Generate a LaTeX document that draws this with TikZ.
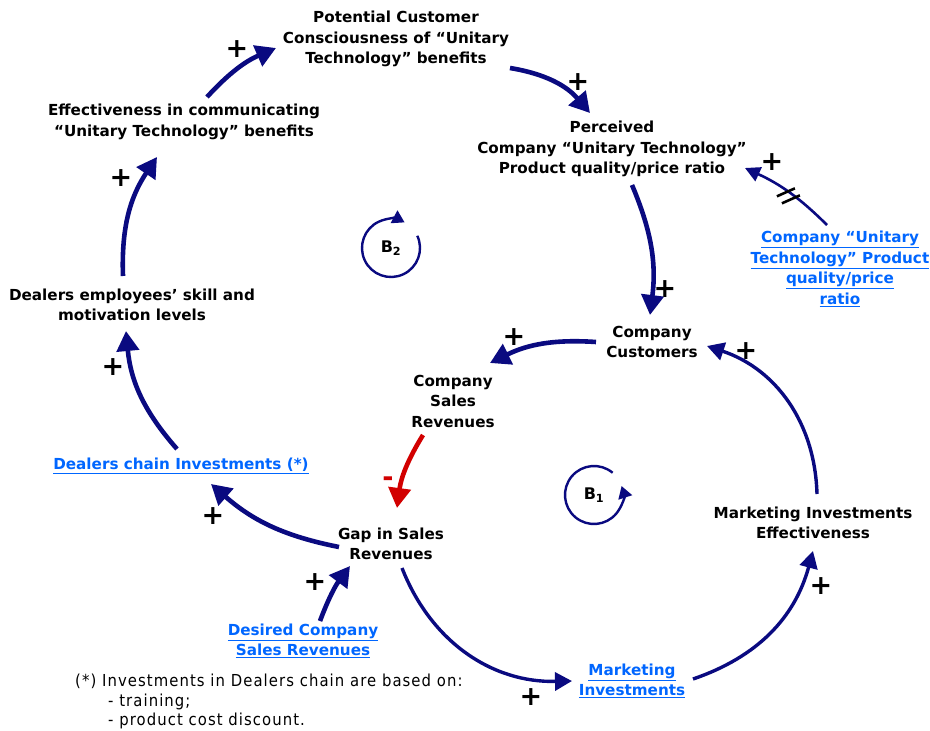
\documentclass[tikz,border=0pt]{standalone}
\usepackage{fontspec}
\setmainfont{DejaVu Sans}
\newfontfamily\notefont[LetterSpace=6.5]{DejaVu Sans Condensed}
\usetikzlibrary{arrows.meta}

\definecolor{loopnavy}{RGB}{10,10,128}
\definecolor{linkblue}{RGB}{0,102,255}
\definecolor{negred}{RGB}{210,0,0}

\newcommand\varfont{\bfseries\fontsize{15.2}{20.5}\selectfont}
\newcommand\ul[1]{\underline{#1}}

\tikzset{
  var/.style={align=center, inner sep=0pt, font=\varfont, text=black},
  linkvar/.style={var, text=linkblue},
  bigarrow/.style={draw=loopnavy, line width=4.6pt, -{Triangle[length=20pt,width=22pt]}},
  midarrow/.style={draw=loopnavy, line width=3.4pt, -{Triangle[length=17pt,width=18pt]}},
  thinarrow/.style={draw=loopnavy, line width=2.6pt, -{Triangle[length=15pt,width=15pt]}},
  negarrow/.style={draw=negred, line width=4.6pt, -{Triangle[length=20pt,width=22pt]}},
  sign/.style={inner sep=0pt, font=\bfseries\fontsize{27}{27}\selectfont},
  looparc/.style={draw=loopnavy, line width=2.4pt, -{Triangle[length=12pt,width=14pt]}},
  looplabel/.style={inner sep=0pt, font=\bfseries\fontsize{16}{18}\selectfont},
}

\begin{document}
\begin{tikzpicture}[x=1pt, y=-1pt]
\useasboundingbox (0,0) rectangle (930,731);
\fill[white] (0,0) rectangle (930,731);

% ---- variables ----
\node[var] (pot) at (396,39) {Potential Customer\\Consciousness of “Unitary\\Technology” benefits};
\node[var] (eff) at (184,122) {Effectiveness in communicating\\“Unitary Technology” benefits};
\node[var] (dea) at (132,305) {Dealers employees’ skill and\\motivation levels};
\node[linkvar] (dci) at (181,466) {\ul{Dealers chain Investments (*)}};
\node[var] (gap) at (391,544) {Gap in Sales\\Revenues};
\node[linkvar] (des) at (303,641) {\ul{Desired Company}\\\ul{Sales Revenues}};
\node[linkvar] (mkt) at (632,681) {\ul{Marketing}\\\ul{Investments}};
\node[var] (mie) at (813,523) {Marketing Investments\\Effectiveness};
\node[var] (cus) at (652,342) {Company\\Customers};
\node[var] (csr) at (453,401) {Company\\Sales\\Revenues};
\node[var] (per) at (612,149) {Perceived\\Company “Unitary Technology”\\Product quality/price ratio};
\node[linkvar] (cut) at (840,269) {\ul{Company “Unitary}\\\ul{Technology” Product}\\\ul{quality/price}\\\ul{ratio}};

% ---- causal links ----
\draw[bigarrow] ([shift={(23,-25)}]eff.center) to[bend left=12] ([shift={(-120,9)}]pot.center);
\draw[bigarrow] ([shift={(114,29)}]pot.center) to[bend left=20] ([shift={(-22,-36)}]per.center);
\draw[bigarrow] ([shift={(20,36)}]per.center) to[bend left=15] ([shift={(-2,-27)}]cus.center);
\draw[bigarrow] ([shift={(-56,0)}]cus.center) to[bend right=15] ([shift={(37,-38)}]csr.center);
\draw[negarrow] ([shift={(-30,34)}]csr.center) to[bend right=12] ([shift={(6,-36)}]gap.center);
\draw[bigarrow] ([shift={(-52,3)}]gap.center) to[bend left=15] ([shift={(30,18)}]dci.center);
\draw[bigarrow] ([shift={(-4,-17)}]dci.center) to[bend left=18] ([shift={(-6,26)}]dea.center);
\draw[bigarrow] ([shift={(-9,-29)}]dea.center) to[bend left=18] ([shift={(-27,35)}]eff.center);
\draw[bigarrow] ([shift={(17,-20)}]des.center) to[bend left=8] ([shift={(-41,22)}]gap.center);
\draw[midarrow] ([shift={(11,24)}]gap.center) to[bend right=35] ([shift={(-60,0)}]mkt.center);
\draw[midarrow] ([shift={(61,-2)}]mkt.center) to[bend right=28] ([shift={(0,28)}]mie.center);
\draw[midarrow] ([shift={(4,-29)}]mie.center) to[bend right=35] ([shift={(55,4)}]cus.center);
\draw[thinarrow] ([shift={(-13,-44)}]cut.center) to[bend right=10] coordinate[pos=0.5] (delay) ([shift={(133,19)}]per.center);

% delay mark
\draw[line width=2.6pt, black] ([shift={(-12,4)}]delay) -- ([shift={(6,-4)}]delay);
\draw[line width=2.6pt, black] ([shift={(-7,11)}]delay) -- ([shift={(11,3)}]delay);

% ---- polarities ----
\node[sign] (s1) at (237,49) {+};
\node[sign] (s2) at (578,82) {+};
\node[sign] (s3) at (665,289) {+};
\node[sign] (s4) at (772,162) {+};
\node[sign] (s5) at (514,337) {+};
\node[sign] (s6) at (746,351) {+};
\node[sign] (s7) at (821,586) {+};
\node[sign] (s8) at (531,697) {+};
\node[sign] (s9) at (315,582) {+};
\node[sign] (s10) at (213,516) {+};
\node[sign] (s11) at (113,367) {+};
\node[sign] (s12) at (121,178) {+};
\node[sign, text=negred] (s13) at (388,482) {-};

% ---- loop markers ----
\node[looplabel] (b2) at (391,248) {B\textsubscript{2}};
\draw[looparc] ([shift={(-25:29)}]b2.center) arc[start angle=-25, end angle=298, radius=29];
\node[looplabel] (b1) at (594,495) {B\textsubscript{1}};
\draw[looparc] ([shift={(-50:29)}]b1.center) arc[start angle=-50, end angle=-378, radius=29];

% ---- footnote ----
\node[align=left, inner sep=0pt, anchor=north west, font=\notefont\fontsize{16.5}{19.5}\selectfont] (note) at (75,674)
  {(*) Investments in Dealers chain are based on:\\
   \hspace*{33pt}- training;\\
   \hspace*{33pt}- product cost discount.};
\end{tikzpicture}
\end{document}
